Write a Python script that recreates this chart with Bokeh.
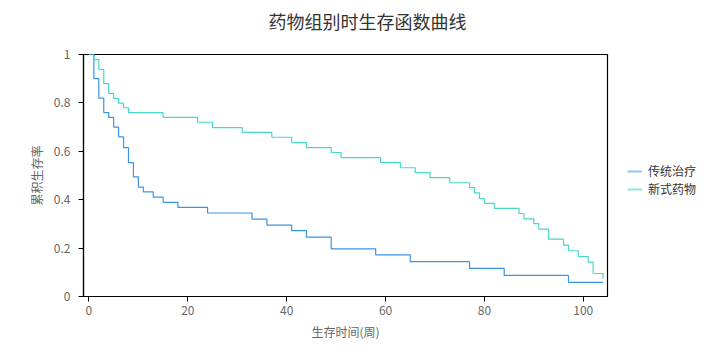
import math
from bokeh.plotting import figure
from bokeh.layouts import row
from bokeh.models import Legend, LegendItem, FixedTicker, CustomJSTickFormatter, Range1d, Title
from bokeh.embed import file_html
from bokeh.resources import INLINE

title_text = "药物组别时生存函数曲线"
x_label = "生存时间(周)"
y_label = "累积生存率"
series_names = ["传统治疗", "新式药物"]

# 传统治疗 (traditional treatment) step curve
trad_t = [0, 1, 2, 3, 4, 5, 6, 7, 8, 9, 10, 11, 13, 15, 18, 24, 33, 36, 41, 44, 49, 58, 65, 77, 84, 97, 104]
trad_s = [1.0, 0.90, 0.82, 0.76, 0.74, 0.70, 0.66, 0.615, 0.553, 0.494, 0.452, 0.432, 0.411, 0.389, 0.368,
          0.345, 0.32, 0.295, 0.272, 0.245, 0.197, 0.172, 0.144, 0.116, 0.087, 0.058, 0.058]

# 新式药物 (new drug) step curve
new_t = [0, 1, 2, 3, 4, 5, 6, 7, 8, 15, 22, 25, 31, 37, 41, 44, 49, 51, 59, 63, 66, 69, 73, 77, 78, 79, 80,
         82, 87, 88, 90, 91, 93, 96, 97, 99, 101, 102, 104]
new_s = [1.0, 0.979, 0.938, 0.88, 0.839, 0.818, 0.799, 0.78, 0.76, 0.74, 0.72, 0.698, 0.678, 0.658, 0.636,
         0.615, 0.595, 0.574, 0.553, 0.532, 0.512, 0.491, 0.47, 0.45, 0.428, 0.405, 0.385, 0.364, 0.343,
         0.321, 0.301, 0.278, 0.237, 0.212, 0.189, 0.165, 0.142, 0.095, 0.073]

x_ticks = [0, 20, 40, 60, 80, 100]
y_ticks = [0, 0.2, 0.4, 0.6, 0.8, 1.0]

FONT = "Noto Sans CJK SC"
BLUE = "#3a95e6"
TEAL = "#47d8c8"
LEGEND_BLUE = "#8fc4f2"
LEGEND_TEAL = "#92e6dc"

p = figure(width=612, height=352, output_backend="svg", toolbar_location=None,
           x_range=Range1d(-1.1, 104.9), y_range=Range1d(0, 1),
           min_border_left=83, min_border_right=5, min_border_top=54, min_border_bottom=56)

p.background_fill_color = "white"
p.border_fill_color = "white"
p.outline_line_color = "black"
p.outline_line_width = 1.2
p.xgrid.visible = False
p.ygrid.visible = False

p.step(trad_t, trad_s, mode="after", line_color=BLUE, line_width=1.2)
p.step(new_t, new_s, mode="after", line_color=TEAL, line_width=1.2)

for ax in (p.xaxis[0], p.yaxis[0]):
    ax.axis_line_color = "black"
    ax.axis_line_width = 1.2
    ax.major_tick_line_color = "black"
    ax.major_tick_out = 5
    ax.major_tick_in = 0
    ax.minor_tick_line_color = None
    ax.major_label_text_font = FONT
    ax.major_label_text_font_size = "12px"
    ax.major_label_text_color = "#666666"
    ax.axis_label_text_font = FONT
    ax.axis_label_text_font_size = "12px"
    ax.axis_label_text_color = "#666666"
    ax.axis_label_text_font_style = "normal"

p.xaxis[0].ticker = FixedTicker(ticks=x_ticks)
p.yaxis[0].ticker = FixedTicker(ticks=y_ticks)
p.yaxis[0].formatter = CustomJSTickFormatter(code="return String(Math.round(tick*10)/10);")
p.xaxis[0].axis_label = x_label
p.yaxis[0].axis_label = y_label
p.xaxis[0].major_label_standoff = 4
p.yaxis[0].major_label_standoff = 8
p.xaxis[0].axis_label_standoff = 5
p.yaxis[0].axis_label_standoff = 6

# spacer panel between the title and the frame
p.add_layout(Title(text=" ", text_font_size="1px", standoff=8), "above")
p.title = Title(text=title_text, align="left", offset=185, vertical_align="top", standoff=15,
                text_font=FONT, text_font_size="18px", text_color="#333333",
                text_font_style="normal")

# legend panel to the right of the chart
q = figure(width=104, height=352, output_backend="svg", toolbar_location=None,
           x_axis_type=None, y_axis_type=None, min_border=0,
           x_range=Range1d(0, 1), y_range=Range1d(0, 1))
q.outline_line_color = None
q.xgrid.visible = False
q.ygrid.visible = False
q.background_fill_color = "white"
q.border_fill_color = "white"
l1 = q.line([math.nan], [math.nan], line_color=LEGEND_BLUE, line_width=2)
l2 = q.line([math.nan], [math.nan], line_color=LEGEND_TEAL, line_width=2)

common = dict(background_fill_alpha=0, border_line_color=None,
              label_text_font=FONT, label_text_font_size="12px", label_text_color="#333333",
              glyph_width=15, glyph_height=12, label_standoff=6, spacing=0, padding=0, margin=0,
              label_height=14)
legend1 = Legend(items=[LegendItem(label=series_names[0], renderers=[l1])], location=(15, 117), **common)
legend2 = Legend(items=[LegendItem(label=series_names[1], renderers=[l2])], location=(15, 99), **common)
q.add_layout(legend1, "center")
q.add_layout(legend2, "center")

layout = row(p, q, spacing=0)
open("out.html", "w").write(file_html(layout, INLINE))
